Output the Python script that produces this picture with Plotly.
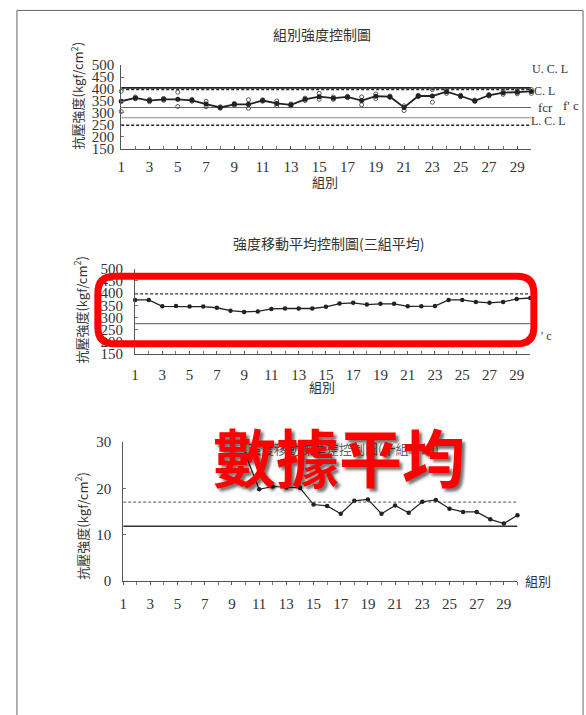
import plotly.graph_objects as go

W, H = 586, 715

# ---------------- data ----------------
groups = list(range(1, 31))

# chart 1: group mean strength and the two specimens of each group
mean1 = [349, 363, 352, 357, 357, 353, 337, 323, 336, 336,
         352, 340, 334, 357, 368, 362, 367, 352, 370, 368,
         323, 371, 371, 389, 371, 351, 374, 385, 387, 390]
spec1a = [391, 367, 357, 361, 387, 357, 349, 326, 340, 355,
          355, 350, 338, 362, 382, 367, 370, 367, 380, 371,
          330, 374, 398, 395, 374, 354, 377, 394, 395, 398]
spec1b = [306, 359, 347, 353, 327, 349, 326, 320, 332, 320,
          349, 331, 330, 352, 357, 357, 364, 334, 360, 365,
          310, 368, 345, 382, 368, 348, 371, 378, 380, 382]
ucl1, cl1, fcr1, fc1, lcl1 = 405, 398, 323, 280, 248

# chart 2: moving average of three groups
mavg2 = [372, 372, 346, 347, 345, 345, 340, 328, 323, 325,
         335, 337, 337, 337, 344, 357, 360, 353, 356, 356,
         346, 346, 347, 372, 372, 364, 360, 364, 376, 380]
cl2, fc2 = 397, 275

# chart 3: moving value of ten groups (starts at group 10)
mstd3 = [None] * 9 + [27.3, 19.8, 20.4, 20.2, 20.1, 16.5, 16.2, 14.5, 17.3, 17.6,
                      14.5, 16.3, 14.7, 17.1, 17.5, 15.6, 14.9, 14.9, 13.3, 12.4, 14.2]
ul3, cl3 = 17.0, 11.8

y1_ticks = [150, 200, 250, 300, 350, 400, 450, 500]
y3_ticks = [0, 10, 20, 30]
x_labels = [1, 3, 5, 7, 9, 11, 13, 15, 17, 19, 21, 23, 25, 27, 29]

title1 = "組別強度控制圖"
title2 = "強度移動平均控制圖(三組平均)"
title3 = "強度移動標準差控制圖(十組平均)"
ytitle = "抗壓強度(kgf/cm<sup>2</sup>)"
xtitle = "組別"
overlay = "數據平均"

# ---------------- helpers ----------------
def px(x):
    return x / W

def py(y):
    return 1 - y / H

CJK = "Noto Sans CJK TC"
SERIF = "Liberation Serif"
INK = "#333333"

fig = go.Figure()

# chart 1 traces
fig.add_trace(go.Scatter(x=groups, y=spec1a, mode="markers", xaxis="x", yaxis="y",
                         marker=dict(symbol="circle-open", size=4, color="#555",
                                     line=dict(width=1)), cliponaxis=False, showlegend=False))
fig.add_trace(go.Scatter(x=groups, y=spec1b, mode="markers", xaxis="x", yaxis="y",
                         marker=dict(symbol="circle-open", size=4, color="#555",
                                     line=dict(width=1)), cliponaxis=False, showlegend=False))
fig.add_trace(go.Scatter(x=groups, y=mean1, mode="lines+markers", xaxis="x", yaxis="y",
                         line=dict(color="#222", width=1.8),
                         marker=dict(size=5, color="#222"), cliponaxis=False, showlegend=False))
# chart 2
fig.add_trace(go.Scatter(x=groups, y=mavg2, mode="lines+markers", xaxis="x2", yaxis="y2",
                         line=dict(color="#222", width=1.3),
                         marker=dict(size=4.5, color="#222"), cliponaxis=False, showlegend=False))
# chart 3
fig.add_trace(go.Scatter(x=groups, y=mstd3, mode="lines+markers", xaxis="x3", yaxis="y3",
                         line=dict(color="#222", width=1.2),
                         marker=dict(size=4.5, color="#222"), cliponaxis=False, showlegend=False))

shapes = []
def hline(xr, yr, val, color, width, dash="solid"):
    shapes.append(dict(type="line", xref=xr, yref=yr, x0=1, x1=30, y0=val, y1=val,
                       line=dict(color=color, width=width, dash=dash), layer="below"))

hline("x", "y", ucl1, "#222", 1.6)
hline("x", "y", cl1, "#222", 1.5, "3px,2px")
hline("x", "y", fcr1, "#666", 1.1)
hline("x", "y", fc1, "#888", 1.1)
hline("x", "y", lcl1, "#222", 1.5, "3px,2px")
hline("x2", "y2", cl2, "#333", 1.4, "3px,2px")
hline("x2", "y2", fc2, "#777", 1.2)
hline("x3", "y3", ul3, "#777", 1.2, "3px,2px")
hline("x3", "y3", cl3, "#333", 1.5)

# page border
shapes.append(dict(type="rect", xref="paper", yref="paper", x0=px(13), x1=px(583),
                   y0=-0.05, y1=py(2.5), line=dict(color="#666", width=1), layer="below"))

# red rounded box
x0, x1, y0, y1, r = 94.5, 533.5, 274.5, 343.5, 17
def P(x, y):
    return f"{px(x):.5f},{py(y):.5f}"
path = (f"M {P(x0+r, y0)} L {P(x1-r, y0)} Q {P(x1, y0)} {P(x1, y0+r)} "
        f"L {P(x1, y1-r)} Q {P(x1, y1)} {P(x1-r, y1)} L {P(x0+r, y1)} "
        f"Q {P(x0, y1)} {P(x0, y1-r)} L {P(x0, y0+r)} Q {P(x0, y0)} {P(x0+r, y0)} Z")
shapes.append(dict(type="path", xref="paper", yref="paper", path=path,
                   line=dict(color="#ff0000", width=7), fillcolor="rgba(0,0,0,0)", layer="above"))

ann = []
def text(x, y, t, size=13, font=CJK, color=INK, angle=0, **kw):
    ann.append(dict(x=px(x), y=py(y), xref="paper", yref="paper", text=t, showarrow=False,
                    textangle=angle, xanchor="center", yanchor="middle",
                    font=dict(family=font, size=size, color=color), **kw))

text(320, 27, title1, 14)
text(323, 177, xtitle, 13)
text(73, 90, ytitle, 13, angle=-90)
text(550, 62, "U. C. L", 12, SERIF)
text(544, 85, "C. L", 12, SERIF)
text(545, 102, "fcr", 13, SERIF)
text(571, 100, "f' c", 13, SERIF)
text(548, 116, "L. C. L", 12, SERIF)

text(327, 240, title2, 14)
text(320, 387, xtitle, 13)
text(77, 308, ytitle, 13, angle=-90)
text(546, 335, "' c", 12, SERIF)

text(342, 451, title3, 13, color="#666")
text(538, 586, xtitle, 13)
text(78, 529, ytitle, 13, angle=-90)

ann.append(dict(x=px(337), y=py(457), xref="paper", yref="paper", text=overlay, showarrow=False,
                xanchor="center", yanchor="middle",
                font=dict(family=CJK, size=63, color="#ff0000", weight="bold",
                          shadow="3px 3px 3px rgba(0,0,0,0.55)")))

def xaxis(dom, anchor, ticks, standoff):
    return dict(domain=dom, anchor=anchor, range=[1, 30], showgrid=False, zeroline=False,
                showline=True, linecolor="#555", linewidth=1,
                tickmode="array", tickvals=x_labels, ticktext=[str(v) for v in x_labels],
                ticks=ticks, ticklen=3, tickcolor="#555",
                minor=dict(tickmode="linear", tick0=1, dtick=1, ticks=ticks, ticklen=3, tickcolor="#777"),
                tickfont=dict(family=SERIF, size=15, color=INK), ticklabelstandoff=standoff)

def yaxis(dom, anchor, rng, vals, size, standoff):
    return dict(domain=dom, anchor=anchor, range=rng, showgrid=False, zeroline=False,
                showline=True, linecolor="#555", linewidth=1,
                tickmode="array", tickvals=vals, ticktext=[str(v) for v in vals],
                ticks="inside", ticklen=3, tickcolor="#777",
                tickfont=dict(family=SERIF, size=size, color=INK), ticklabelstandoff=standoff)

fig.update_layout(
    width=W, height=H, margin=dict(l=0, r=0, t=0, b=0),
    paper_bgcolor="white", plot_bgcolor="white",
    xaxis=xaxis([px(118), px(531)], "y", "inside", 4),
    yaxis=yaxis([py(144), py(58.5)], "x", [150, 500], y1_ticks, 15, 3),
    xaxis2=xaxis([px(132), px(530)], "y2", "inside", 7),
    yaxis2=yaxis([py(354), py(266.7)], "x2", [150, 500], y1_ticks, 15, 8),
    xaxis3=xaxis([px(120), px(517)], "y3", "outside", 6),
    yaxis3=yaxis([py(586), py(444)], "x3", [0, 30], y3_ticks, 15, 8),
    shapes=shapes, annotations=ann,
)

# place the figure flush with the window's top-left corner
pin = ("document.body.style.margin='0';document.body.style.overflow='hidden';"
       "var d=document.getElementById('{plot_id}');"
       "d.style.position='absolute';d.style.left='0px';d.style.top='0px';")

fig.write_html("out.html", post_script=pin, config={"displayModeBar": False})
